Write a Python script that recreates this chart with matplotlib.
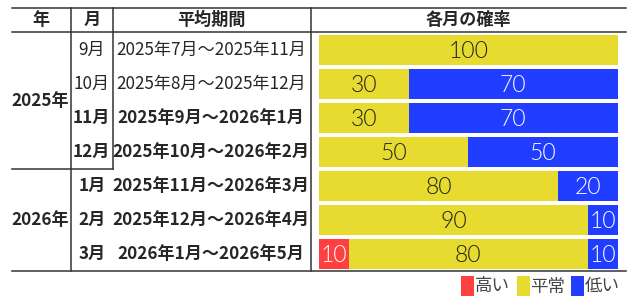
import matplotlib
matplotlib.use("Agg")
import matplotlib.pyplot as plt
import numpy as np

plt.rcParams['font.family'] = ['Noto Sans CJK JP', 'DejaVu Sans']

# ---- data ----
years = ["2025年", "2026年"]
year_rows = [4, 3]
months = ["9月", "10月", "11月", "12月", "1月", "2月", "3月"]
periods = ["2025年7月～2025年11月", "2025年8月～2025年12月", "2025年9月～2026年1月",
           "2025年10月～2026年2月", "2025年11月～2026年3月", "2025年12月～2026年4月",
           "2026年1月～2026年5月"]
bold_rows = [False, False, True, True, True, True, True]
high = [0, 0, 0, 0, 0, 0, 10]
normal = [100, 30, 30, 50, 80, 90, 80]
low = [0, 70, 70, 50, 20, 10, 10]
headers = ["年", "月", "平均期間", "各月の確率"]
legend_labels = ["高い", "平常", "低い"]

c_high, c_norm, c_low = "#FF4040", "#E6DB2E", "#213DFF"
W, H = 639, 303
fig = plt.figure(figsize=(W / 100, H / 100), dpi=100)

# overlay axes in pixel coords
ov = fig.add_axes([0, 0, 1, 1])
ov.set_xlim(0, W)
ov.set_ylim(H, 0)
ov.axis("off")

# bars axes
bx0, bx1 = 319, 617.7
by0, by1 = 33, 271
bar = fig.add_axes([bx0 / W, (H - by1) / H, (bx1 - bx0) / W, (by1 - by0) / H])
n = len(months)
y = np.arange(n)
bh = 30 / 34
bar.barh(y, high, height=bh, color=c_high, left=0)
bar.barh(y, normal, height=bh, color=c_norm, left=high)
bar.barh(y, low, height=bh, color=c_low, left=np.array(high) + np.array(normal))
bar.set_xlim(0, 100)
bar.set_ylim(n - 0.5, -0.5)
bar.axis("off")
numfont = dict(family="Lato", fontsize=16.5, fontweight=300)
for i in range(n):
    segs = [(0, high[i], "white"), (high[i], normal[i], "#222222"),
            (high[i] + normal[i], low[i], "white")]
    for left, v, tc in segs:
        if v > 0:
            bar.text(left + v / 2, i + 0.03, str(v), ha="center", va="center",
                     color=tc, **numfont)

# table lines
lc = "#333333"
lw = 1.1
x_left, x_right = 12, 625.6
xv1, xv2, xv3 = 70.7, 113, 310.5
y_top, y_head, y_bot, y_grp = 8, 32, 271, 169.3
ov.plot([x_left, x_right], [y_top, y_top], color=lc, lw=lw)
ov.plot([x_left, x_right], [y_head, y_head], color=lc, lw=lw)
ov.plot([x_left, x_right], [y_bot, y_bot], color=lc, lw=lw)
ov.plot([x_left, xv2], [y_grp, y_grp], color=lc, lw=lw)
ov.plot([xv1, xv1], [y_top, y_bot], color=lc, lw=lw)
ov.plot([xv2, xv2], [y_top, y_grp], color=lc, lw=lw)
ov.plot([xv3, xv3], [y_top, y_bot], color=lc, lw=lw)

tc = "#262626"
fs = 12.3
col_cx = [41, 92, 211.5, 468]
for hx, htxt in zip(col_cx, headers):
    ov.text(hx, 20, htxt, ha="center", va="center", fontsize=fs,
            fontweight="bold", color=tc)

row_c = [50 + 34 * i for i in range(n)]
for i in range(n):
    fw = "bold" if bold_rows[i] else "normal"
    ov.text(91.8, row_c[i], months[i], ha="center", va="center", fontsize=fs,
            fontweight=fw, color=tc)
    ov.text(211, row_c[i], periods[i], ha="center", va="center", fontsize=fs,
            fontweight=fw, color=tc)
start = 0
for yr, nr in zip(years, year_rows):
    yc = (row_c[start] + row_c[start + nr - 1]) / 2
    ov.text(40.5, yc, yr, ha="center", va="center", fontsize=fs,
            fontweight="bold", color=tc)
    start += nr

# legend
leg_x = [461, 516.7, 571]
for lx, lab, col in zip(leg_x, legend_labels, [c_high, c_norm, c_low]):
    ov.add_patch(plt.Rectangle((lx, 276), 13, 19.7, color=col, lw=0))
    ov.text(lx + 13.5, 286.5, lab, ha="left", va="center", fontsize=12.6,
            color="#444444")

fig.savefig("out.png", dpi=100)
